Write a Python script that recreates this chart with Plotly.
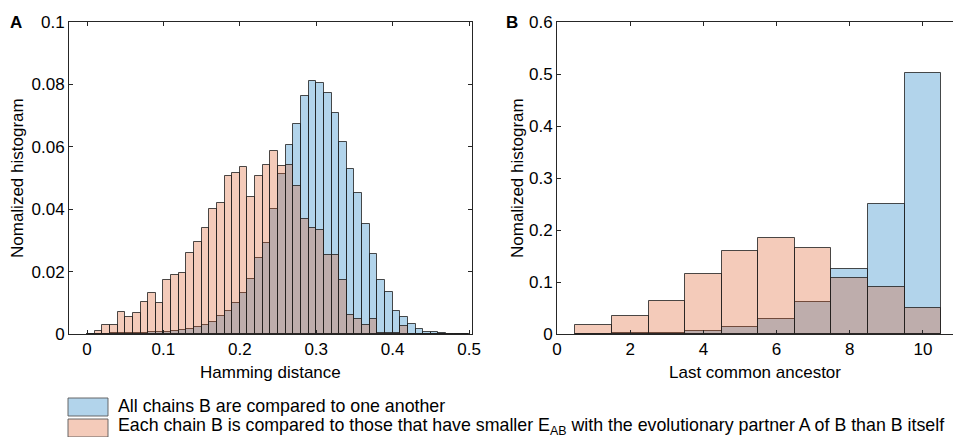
import plotly.graph_objects as go

# ---------------- data ----------------
# Panel A: Hamming distance histogram, bins of width 0.01 (left edges)
ham_left = [0.00, 0.01, 0.02, 0.03, 0.04, 0.05, 0.06, 0.07, 0.08, 0.09,
            0.10, 0.11, 0.12, 0.13, 0.14, 0.15, 0.16, 0.17, 0.18, 0.19,
            0.20, 0.21, 0.22, 0.23, 0.24, 0.25, 0.26, 0.27, 0.28, 0.29,
            0.30, 0.31, 0.32, 0.33, 0.34, 0.35, 0.36, 0.37, 0.38, 0.39,
            0.40, 0.41, 0.42, 0.43, 0.44, 0.45, 0.46, 0.47, 0.48, 0.49]
ham_all = [0.0001, 0.0001, 0.0001, 0.0002, 0.0002, 0.0003, 0.0003, 0.0004, 0.0005, 0.0005,
           0.0008, 0.0010, 0.0013, 0.0017, 0.0023, 0.0030, 0.0040, 0.0059, 0.0075, 0.0098,
           0.0133, 0.0176, 0.0245, 0.0293, 0.0402, 0.0514, 0.0606, 0.0674, 0.0764, 0.0810,
           0.0805, 0.0771, 0.0709, 0.0616, 0.0530, 0.0451, 0.0353, 0.0258, 0.0173, 0.0136,
           0.0074, 0.0053, 0.0033, 0.0017, 0.0008, 0.0005, 0.0003, 0.0001, 0.0001, 0.0001]
ham_smaller = [0.0000, 0.0010, 0.0030, 0.0030, 0.0072, 0.0055, 0.0067, 0.0104, 0.0130, 0.0098,
               0.0173, 0.0190, 0.0197, 0.0259, 0.0296, 0.0339, 0.0401, 0.0420, 0.0506, 0.0517,
               0.0536, 0.0438, 0.0506, 0.0541, 0.0586, 0.0540, 0.0542, 0.0474, 0.0370, 0.0339,
               0.0333, 0.0252, 0.0252, 0.0173, 0.0060, 0.0049, 0.0030, 0.0049, 0.0004, 0.0004,
               0.0004, 0.0025, 0.0000, 0.0000, 0.0000, 0.0000, 0.0000, 0.0000, 0.0000, 0.0000]
ham_width = 0.01

# Panel B: last common ancestor histogram
lca = [1, 2, 3, 4, 5, 6, 7, 8, 9, 10]
lca_all = [0.0005, 0.0010, 0.0020, 0.0058, 0.0134, 0.0288, 0.0615, 0.1248, 0.2503, 0.5019]
lca_smaller = [0.0173, 0.0352, 0.0634, 0.1152, 0.1594, 0.1844, 0.1652, 0.1076, 0.0903, 0.0506]

ham_ticks = [0, 0.1, 0.2, 0.3, 0.4, 0.5]
ham_ticktext = ["0", "0.1", "0.2", "0.3", "0.4", "0.5"]
ya_ticks = [0, 0.02, 0.04, 0.06, 0.08, 0.1]
ya_ticktext = ["0", "0.02", "0.04", "0.06", "0.08", "0.1"]
lca_ticks = [0, 2, 4, 6, 8, 10]
yb_ticks = [0, 0.1, 0.2, 0.3, 0.4, 0.5, 0.6]
yb_ticktext = ["0", "0.1", "0.2", "0.3", "0.4", "0.5", "0.6"]

legend_labels = ["All chains B are compared to one another",
                 "Each chain B is compared to those that have smaller E<sub>AB</sub> with the evolutionary partner A of B than B itself"]

# ---------------- style ----------------
W, H = 953, 437
ML, MR, MT, MB = 69, 0, 22, 103
PW, PH = W - ML - MR, H - MT - MB
BLUE = "rgba(0,114,189,0.3)"
ORANGE = "rgba(217,83,25,0.3)"
EDGE = "rgba(30,30,30,0.8)"
AX = "#262626"
FONT = "Liberation Sans, Arial, sans-serif"
FS = 17
FS_LEG = 17.8


def px(x):
    return (x - ML) / PW


def py(y):
    return (H - MB - y) / PH


fig = go.Figure()
ham_centers = [l + ham_width / 2 for l in ham_left]
fig.add_trace(go.Bar(x=ham_centers, y=ham_all, width=ham_width, name=legend_labels[0],
                     marker=dict(color=BLUE, line=dict(color=EDGE, width=1)),
                     xaxis="x", yaxis="y", showlegend=False))
fig.add_trace(go.Bar(x=ham_centers, y=ham_smaller, width=ham_width, name=legend_labels[1],
                     marker=dict(color=ORANGE, line=dict(color=EDGE, width=1)),
                     xaxis="x", yaxis="y", showlegend=False))
fig.add_trace(go.Bar(x=lca, y=lca_all, width=1, name=legend_labels[0],
                     marker=dict(color=BLUE, line=dict(color=EDGE, width=1)),
                     xaxis="x2", yaxis="y2", showlegend=False))
fig.add_trace(go.Bar(x=lca, y=lca_smaller, width=1, name=legend_labels[1],
                     marker=dict(color=ORANGE, line=dict(color=EDGE, width=1)),
                     xaxis="x2", yaxis="y2", showlegend=False))

common = dict(ticks="inside", ticklen=4, tickcolor=AX, tickwidth=1, showline=True,
              linecolor=AX, linewidth=1, showgrid=False, zeroline=False,
              tickfont=dict(family=FONT, size=FS, color="#000"))

fig.update_layout(
    width=W, height=H, margin=dict(l=ML, r=MR, t=MT, b=MB, autoexpand=False),
    paper_bgcolor="white", plot_bgcolor="white", barmode="overlay", bargap=0,
    font=dict(family=FONT, size=FS, color="#000"),
    xaxis=dict(domain=[0, px(472.3)], range=[-0.0236, 0.5043], tickvals=ham_ticks,
               ticktext=ham_ticktext, mirror="ticks", anchor="y", **common),
    yaxis=dict(domain=[0, 1], range=[0, 0.1], tickvals=ya_ticks, ticktext=ya_ticktext,
               mirror="ticks", anchor="x", **common),
    xaxis2=dict(domain=[px(557), 1], range=[0, 10.82], tickvals=lca_ticks,
                mirror="ticks", anchor="y2", **common),
    yaxis2=dict(domain=[0, 1], range=[0, 0.6], tickvals=yb_ticks, ticktext=yb_ticktext,
                mirror=False, anchor="x2", **common),
)

ann = []
# panel labels
ann.append(dict(text="<b>A</b>", x=px(16), y=py(22), xref="paper", yref="paper",
                showarrow=False, xanchor="center", yanchor="middle", font=dict(size=FS)))
ann.append(dict(text="<b>B</b>", x=px(512), y=py(22), xref="paper", yref="paper",
                showarrow=False, xanchor="center", yanchor="middle", font=dict(size=FS)))
# axis titles
ann.append(dict(text="Hamming distance", x=px(270.6), y=py(372), xref="paper", yref="paper",
                showarrow=False, xanchor="center", yanchor="middle"))
ann.append(dict(text="Last common ancestor", x=px(755), y=py(372), xref="paper", yref="paper",
                showarrow=False, xanchor="center", yanchor="middle"))
ann.append(dict(text="Nomalized histogram", x=px(17), y=py(178), xref="paper", yref="paper",
                showarrow=False, xanchor="center", yanchor="middle", textangle=-90))
ann.append(dict(text="Nomalized histogram", x=px(517), y=py(178), xref="paper", yref="paper",
                showarrow=False, xanchor="center", yanchor="middle", textangle=-90))
# legend
shapes = []
for i, (col, lab) in enumerate(zip([BLUE, ORANGE], legend_labels)):
    y0, y1 = 398 + i * 21, 416 + i * 21
    shapes.append(dict(type="rect", xref="paper", yref="paper", x0=px(68), x1=px(108),
                       y0=py(y1), y1=py(y0), fillcolor=col,
                       line=dict(color="rgba(90,90,90,0.9)", width=1)))
    ann.append(dict(text=lab, x=px(116), y=py((y0 + y1) / 2 - 1.5), xref="paper", yref="paper",
                    showarrow=False, xanchor="left", yanchor="middle",
                    font=dict(size=FS_LEG)))

fig.update_layout(annotations=ann, shapes=shapes)
fig.write_html("out.html")
